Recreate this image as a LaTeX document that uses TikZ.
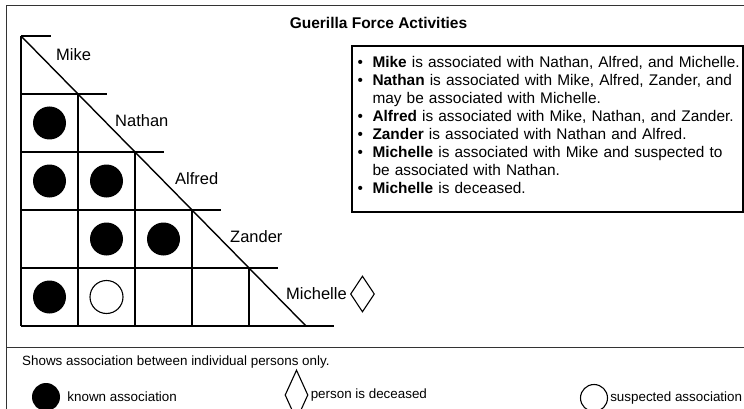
\documentclass[tikz,border=0pt]{standalone}
\usepackage{fontspec}
\setmainfont{Liberation Sans}
\usetikzlibrary{positioning}
\usetikzlibrary{shapes.geometric}
\tikzset{node distance=6pt,
    frame/.style={
        draw=black!80,
        line width=1pt},
    grid line/.style={
        line width=1.4pt},
    known/.style={
        circle,
        fill=black,
        minimum size=33pt,
        inner sep=0pt},
    suspected/.style={
        circle,
        draw,
        line width=1.1pt,
        minimum size=33pt,
        inner sep=0pt},
    deceased/.style={
        diamond,
        draw,
        line width=1.1pt,
        inner sep=0pt},
    person/.style={
        anchor=west,
        inner sep=0pt,
        font=\fontsize{16.5}{19}\selectfont},
    legend text/.style={
        anchor=west,
        inner sep=0pt,
        font=\fontsize{13.4}{15}\selectfont},
    factbox/.style={
        draw,
        line width=1.2pt,
        text width=386pt,
        inner xsep=2.5pt,
        inner ysep=0pt,
        minimum height=166pt,
        align=left,
        font=\fontsize{15.4}{18.1}\selectfont}}
\newcommand{\fact}[1]{\par\hangindent=18pt\hangafter=1\noindent\makebox[18pt][l]{\hspace{3pt}\textbullet}#1}

\begin{document}
\begin{tikzpicture}[x=1pt,y=-1pt]
        \clip (0,0) rectangle (744,409);
        \useasboundingbox (0,0) rectangle (744,409);

        % frame and legend rule
        \draw[frame] (6,6) rectangle (760,424);
        \draw[frame] (6,347) -- (760,347);

        \node[font=\bfseries\fontsize{15.5}{18}\selectfont] (heading) at (378.5,23) {Guerilla Force Activities};

        % triangle grid
        \draw[grid line] (21,36) -- (51,36);
        \draw[grid line] (21,94) -- (107,94);
        \draw[grid line] (21,152) -- (164,152);
        \draw[grid line] (21,210) -- (221,210);
        \draw[grid line] (21,268) -- (278,268);
        \draw[grid line] (21,326) -- (334,326);
        \draw[grid line] (21,36) -- (21,326);
        \draw[grid line] (78,94) -- (78,326);
        \draw[grid line] (135,152) -- (135,326);
        \draw[grid line] (192,210) -- (192,326);
        \draw[grid line] (249,268) -- (249,326);
        \draw[grid line] (21,36) -- (306,326);

        \node[person] (mike) at (56,55) {Mike};
        \node[person] (nathan) at (115,121) {Nathan};
        \node[person] (alfred) at (175,179) {Alfred};
        \node[person] (zander) at (230,237) {Zander};
        \node[person] (michelle) at (286,294) {Michelle};
        \node[deceased,minimum width=24pt,minimum height=36pt,right=3pt of michelle] (dead) {};

        \node[known] (nathan-mike) at (49.5,123) {};
        \node[known] (alfred-mike) at (49.5,181) {};
        \node[known] (alfred-nathan) at (106.5,181) {};
        \node[known] (zander-nathan) at (106.5,239) {};
        \node[known] (zander-alfred) at (163.5,239) {};
        \node[known] (michelle-mike) at (49.5,297) {};
        \node[suspected] (michelle-nathan) at (106.5,297) {};

        \node[factbox] (facts) at (547.5,129) {%
            \fact{\textbf{Mike} is associated with Nathan, Alfred, and Michelle.}
            \fact{\textbf{Nathan} is associated with Mike, Alfred, Zander, and\newline may be associated with Michelle.}
            \fact{\textbf{Alfred} is associated with Mike, Nathan, and Zander.}
            \fact{\textbf{Zander} is associated with Nathan and Alfred.}
            \fact{\textbf{Michelle} is associated with Mike and suspected to\newline be associated with Nathan.}
            \fact{\textbf{Michelle} is deceased.\rule[-15pt]{0pt}{1pt}}};

        % legend
        \node[legend text] (note) at (22,362) {Shows association between individual persons only.};
        \node[known,minimum size=28pt] (keydot) at (46,397) {};
        \node[legend text,right=7pt of keydot] (keydot text) {known association};
        \node[deceased,minimum width=23pt,minimum height=50pt] (keydiamond) at (296.5,395) {};
        \node[legend text,right=2pt of keydiamond] (keydiamond text) {person is deceased};
        \node[suspected,minimum size=27pt] (keyring) at (594,398) {};
        \node[legend text,right=2pt of keyring] (keyring text) {suspected association};
    \end{tikzpicture}
\end{document}
